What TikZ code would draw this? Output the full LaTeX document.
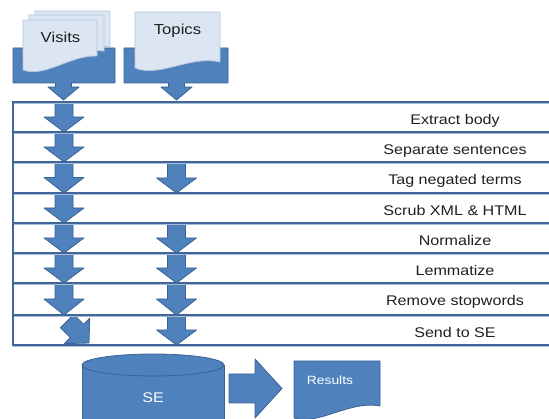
\documentclass[tikz,border=0pt]{standalone}
\usepackage{fontspec}
\setmainfont{Liberation Sans}
\definecolor{blk}{HTML}{4F81BD}
\definecolor{blkedge}{HTML}{3A6295}
\definecolor{docfill}{HTML}{DCE6F2}
\definecolor{docedge}{HTML}{B3C6E0}
\definecolor{rowline}{HTML}{41679A}
\definecolor{rowlight}{HTML}{A9BCD6}
\newcommand\dnarrow[3]{%
  \path[block] (#1-9,#2) -- (#1+9,#2) -- (#1+9,{(#2+#3)/2}) -- (#1+20,{(#2+#3)/2}) -- (#1,#3) -- (#1-20,{(#2+#3)/2}) -- (#1-9,{(#2+#3)/2}) -- cycle;}
\newcommand\wtext[2]{\scalebox{1.15}[1]{\fontsize{#1}{#1}\selectfont #2}}
\tikzset{
  block/.style={fill=blk,draw=blkedge,line width=0.8pt,line join=round},
  doc/.style={fill=docfill,draw=docedge,line width=0.8pt,line join=round},
  rowrule/.style={draw=rowline,line width=2pt},
  rowshade/.style={draw=rowlight,line width=0.8pt},
  lbl/.style={text=black!88,anchor=base,inner sep=0pt},
  wlbl/.style={text=white,anchor=base,inner sep=0pt}
}
\begin{document}
\begin{tikzpicture}[x=1pt,y=-1pt]
\useasboundingbox (0,0) rectangle (549,419);
\clip (0,0) rectangle (549,419);

% top block arrows
\path[block] (13,48) -- (115,48) -- (115,83) -- (71.5,83) -- (71.5,87) -- (79,87) -- (63.5,100) -- (48,87) -- (55.5,87) -- (55.5,83) -- (13,83) -- cycle;
\path[block] (124,48) -- (228,48) -- (228,83) -- (184.5,83) -- (184.5,87) -- (192,87) -- (176.5,100) -- (161,87) -- (168.5,87) -- (168.5,83) -- (124,83) -- cycle;

% documents
\path[doc] (35,11) -- (110,11) -- (110,47) .. controls (85,42) and (65,62) .. (35,55) -- cycle;
\path[doc] (29,15) -- (104,15) -- (104,51) .. controls (80,48) and (58,68) .. (29,62) -- cycle;
\path[doc] (23,20) -- (97,20) -- (97,56) .. controls (70,55) and (45,78) .. (23,70) -- cycle;
\node[lbl] (visits) at (60.5,43) {\wtext{14.5}{Visits}};
\path[doc] (135,12) -- (220,12) -- (220,62) .. controls (190,55) and (160,78) .. (135,68) -- cycle;
\node[lbl] (topics) at (177.5,35) {\wtext{14.5}{Topics}};

% row arrows, left column
\dnarrow{64}{102}{132}
\dnarrow{64}{132}{162}
\dnarrow{64}{162}{193}
\dnarrow{64}{193}{223}
\dnarrow{64}{223}{253}
\dnarrow{64}{253}{283}
\dnarrow{64}{283}{315}
% diagonal arrow in the last row
\path[block] (73.8,314.4) -- (83.7,324.3) -- (89.7,318.3) -- (89,343) -- (64.3,343.7) -- (70.3,337.7) -- (60.4,327.8) -- cycle;
% right column
\dnarrow{176.5}{163}{193}
\dnarrow{176.5}{223}{253}
\dnarrow{176.5}{253}{283}
\dnarrow{176.5}{283}{315}
\dnarrow{176.5}{315}{345}

% row rules
\foreach \yy in {102,132,162,193,223,253,283,315,345}{
  \draw[rowshade] (13,\yy+1.6) -- (549,\yy+1.6);
  \draw[rowrule] (13,\yy) -- (549,\yy);
}
\draw[rowrule] (13,101) -- (13,346);

% row labels
\node[lbl] (r1) at (455,125) {\wtext{14}{Extract body}};
\node[lbl] (r2) at (455,155) {\wtext{14}{Separate sentences}};
\node[lbl] (r3) at (455,185) {\wtext{14}{Tag negated terms}};
\node[lbl] (r4) at (455,216) {\wtext{14}{Scrub XML \& HTML}};
\node[lbl] (r5) at (455,246) {\wtext{14}{Normalize}};
\node[lbl] (r6) at (455,276) {\wtext{14}{Lemmatize}};
\node[lbl] (r7) at (455,306) {\wtext{14}{Remove stopwords}};
\node[lbl] (r8) at (455,338) {\wtext{14}{Send to SE}};

% SE cylinder
\fill[blk] (82,365) rectangle (224,430);
\draw[blkedge,line width=0.8pt] (82,365) -- (82,430) (224,365) -- (224,430);
\path[block] (153,365) ellipse [x radius=71pt, y radius=11pt];
\node[wlbl] (se) at (153,403) {\wtext{14}{SE}};

% arrow to results
\path[block] (229,374) -- (255,374) -- (255,359) -- (282,388.5) -- (255,418) -- (255,403) -- (229,403) -- cycle;

% results document
\path[block] (294,361) -- (380,361) -- (380,406) .. controls (350,400) and (318,426) .. (294,418) -- cycle;
\node[wlbl] (results) at (330,385) {\wtext{12}{Results}};
\end{tikzpicture}
\end{document}
